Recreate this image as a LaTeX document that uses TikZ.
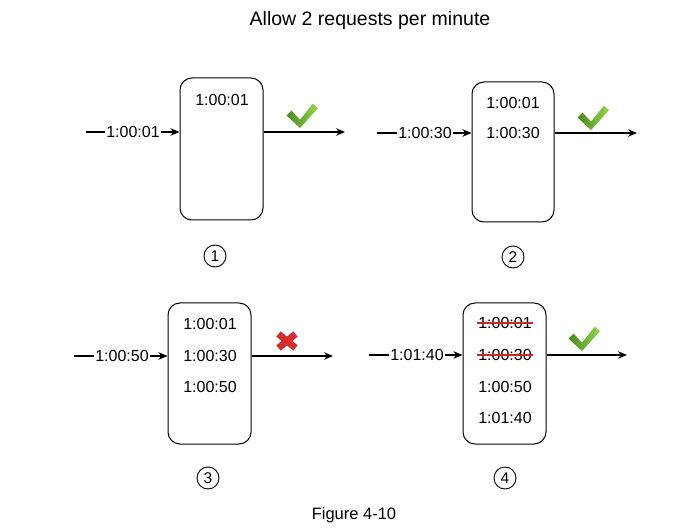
\documentclass[tikz,border=0pt]{standalone}
\usepackage{fontspec}
\setmainfont{Liberation Sans}
\usetikzlibrary{arrows.meta}

\definecolor{okdark}{HTML}{4A8A1C}
\definecolor{oklight}{HTML}{94D847}
\definecolor{nored}{HTML}{D92B2B}
\definecolor{strikered}{HTML}{E02020}

\tikzset{
  window/.style={draw, rounded corners=12pt, line width=1pt, inner sep=0pt},
  stamp/.style={inner sep=1.5pt, font=\fontsize{16}{19}\selectfont},
  tslabel/.style={stamp, fill=white, inner sep=1pt},
  flow/.style={line width=1.1pt, -{Stealth[length=9pt, width=7.5pt]}},
  strike/.style={draw=strikered, line width=1.6pt},
  stepnum/.style={draw, circle, line width=0.9pt, minimum size=22pt, inner sep=0pt,
    font=\fontsize{15.5}{18}\selectfont},
  okmark/.pic={
    \shade[left color=okdark, right color=oklight]
      (-11.5,-4.5) -- (-16.5,0.5) -- (-3,13) -- (15,-6.8)
      -- (9.8,-11.2) -- (-3,4.6) -- cycle;
  },
  nomark/.pic={
    \draw[nored, line width=6.8pt] (-8.5,-7) -- (8.5,7) (-8.5,7) -- (8.5,-7);
  }
}

\begin{document}
\begin{tikzpicture}[x=1pt, y=-1pt]

  %% title
  \node[font=\fontsize{19.5}{23}\selectfont] (title) at (370,20) {Allow 2 requests per minute};

  %% ---- step 1
  \node[window, minimum width=83pt, minimum height=142pt] (win1) at (221.5,149) {};
  \node[stamp] (t11) at (222,100) {1:00:01};
  \coordinate (src1) at (86,132);
  \coordinate (dst1) at (345,132);
  \draw[flow] (src1) -- (win1.west |- src1);
  \node[tslabel] (req1) at (133,132) {1:00:01};
  \draw[flow] (win1.east |- dst1) -- (dst1);
  \pic at (303,115) {okmark};
  \node[stepnum] (num1) at (215,256) {1};

  %% ---- step 2
  \node[window, minimum width=82pt, minimum height=140pt] (win2) at (513,152) {};
  \node[stamp] (t21) at (513,103) {1:00:01};
  \node[stamp] (t22) at (513,133) {1:00:30};
  \coordinate (src2) at (377,133);
  \coordinate (dst2) at (637,133);
  \draw[flow] (src2) -- (win2.west |- src2);
  \node[tslabel] (req2) at (425,133) {1:00:30};
  \draw[flow] (win2.east |- dst2) -- (dst2);
  \pic at (594,117) {okmark};
  \node[stepnum] (num2) at (513,257) {2};

  %% ---- step 3
  \node[window, minimum width=83pt, minimum height=141pt] (win3) at (209.5,373.5) {};
  \node[stamp] (t31) at (210,324) {1:00:01};
  \node[stamp] (t32) at (210,356) {1:00:30};
  \node[stamp] (t33) at (210,387) {1:00:50};
  \coordinate (src3) at (74,356);
  \coordinate (dst3) at (333,356);
  \draw[flow] (src3) -- (win3.west |- src3);
  \node[tslabel] (req3) at (122,356) {1:00:50};
  \draw[flow] (win3.east |- dst3) -- (dst3);
  \pic at (287,341) {nomark};
  \node[stepnum] (num3) at (208,478) {3};

  %% ---- step 4
  \node[window, minimum width=83pt, minimum height=141pt] (win4) at (504.5,373.5) {};
  \node[stamp] (t41) at (505,323) {1:00:01};
  \node[stamp] (t42) at (505,355) {1:00:30};
  \node[stamp] (t43) at (505,387) {1:00:50};
  \node[stamp] (t44) at (505,418) {1:01:40};
  \draw[strike] (t41.west) -- (t41.east);
  \draw[strike] (t42.west) -- (t42.east);
  \coordinate (src4) at (369,355);
  \coordinate (dst4) at (627,355);
  \draw[flow] (src4) -- (win4.west |- src4);
  \node[tslabel] (req4) at (417,355) {1:01:40};
  \draw[flow] (win4.east |- dst4) -- (dst4);
  \pic at (585,338) {okmark};
  \node[stepnum] (num4) at (505,478) {4};

  %% caption
  \node[font=\fontsize{16.5}{20}\selectfont] (caption) at (354,515) {Figure 4-10};

  \pgfresetboundingbox
  \path[use as bounding box] (0,0) rectangle (696,529);
\end{tikzpicture}
\end{document}
